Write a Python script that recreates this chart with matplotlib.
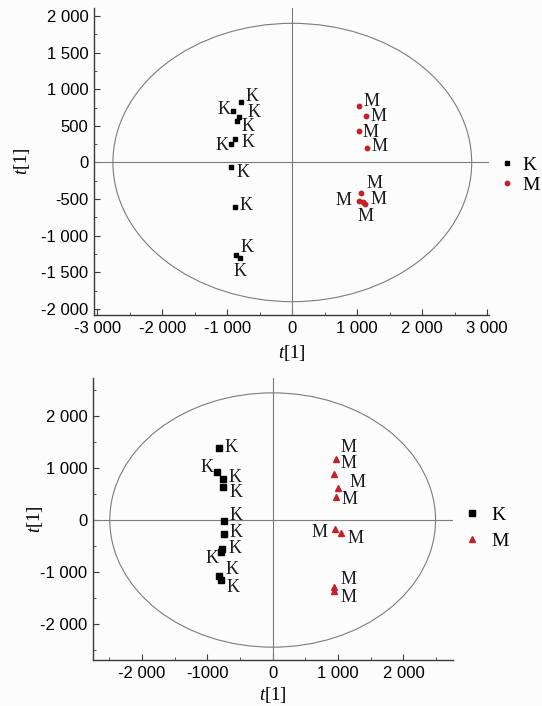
import matplotlib
matplotlib.use("Agg")
import matplotlib.pyplot as plt
from matplotlib.patches import Ellipse
from matplotlib.ticker import FixedLocator, MultipleLocator

# ---------------- data: top panel ----------------
top_k_x = [-785, -908, -825, -851, -877, -948, -948, -877, -862, -805]
top_k_y = [821, 703, 617, 570, 316, 248, -57, -603, -1262, -1307]
top_m_x = [1031, 1138, 1026, 1154, 1052, 1031, 1083, 1123]
top_m_y = [771, 630, 425, 202, -412, -521, -543, -570]
top_ellipse_radii = (2760, 1900)
top_xticks = [-3000, -2000, -1000, 0, 1000, 2000, 3000]
top_xticklabels = ["-3 000", "-2 000", "-1 000", "0", "1 000", "2 000", "3 000"]
top_yticks = [-2000, -1500, -1000, -500, 0, 500, 1000, 1500, 2000]
top_yticklabels = ["-2 000", "-1 500", "-1 000", "-500", "0", "500", "1 000", "1 500", "2 000"]

# ---------------- data: bottom panel ----------------
bot_k_x = [-822, -848, -766, -766, -750, -741, -776, -796, -822, -796]
bot_k_y = [1381, 919, 790, 642, -19, -270, -559, -623, -1073, -1156]
bot_m_x = [964, 939, 1000, 964, 954, 1046, 939, 939]
bot_m_y = [1175, 880, 623, 450, -180, -244, -1297, -1362]
bot_ellipse_radii = (2490, 2450)
bot_xticks = [-2000, -1000, 0, 1000, 2000]
bot_xticklabels = ["-2 000", "-1000", "0", "1 000", "2 000"]
bot_yticks = [-2000, -1000, 0, 1000, 2000]
bot_yticklabels = ["-2 000", "-1 000", "0", "1 000", "2 000"]

group_names = ["K", "M"]

# label offsets in pixels (dx right, dy down) -- layout only
top_k_off = [(11, -6), (-9, -1), (15, -5), (11, 6), (13, 3), (-9, 1), (12, 6), (11, -1), (11, -7), (0, 13)]
top_m_off = [(12, -5), (12, 0), (12, 1), (12, -1), (14, -9), (-16, 0), (16, -3), (0, 12)]
bot_k_off = [(12, -1), (-10, -5), (12, -2), (13, 6), (12, -5), (12, -2), (13, -1), (-9, 6), (13, -6), (12, 7)]
bot_m_off = [(13, -12), (14, -11), (19, -5), (14, 3), (-16, 3), (14, 6), (14, -8), (14, 7)]

W, H = 542, 706
DPI = 100
RED = "#c4222b"
LINE = "#7c7c7c"
SPINE = "#3a3a3a"
SERIF = ["Liberation Serif", "DejaVu Serif"]
SANS = ["Liberation Sans", "DejaVu Sans"]
PX = 72.0 / DPI

plt.rcParams["mathtext.fontset"] = "custom"
plt.rcParams["mathtext.it"] = "Liberation Serif:italic"
plt.rcParams["mathtext.rm"] = "Liberation Serif"

fig = plt.figure(figsize=(W / DPI, H / DPI), dpi=DPI, facecolor="#fcfcfc")


def make_axes(box):
    x0, y0, x1, y1 = box
    return fig.add_axes([x0 / W, 1 - y1 / H, (x1 - x0) / W, (y1 - y0) / H])


def style(ax, xticks, xlabels, yticks, ylabels, xminor, yminor, ylab_x, xlab_y):
    ax.set_facecolor("none")
    for s in ("top", "right"):
        ax.spines[s].set_visible(False)
    for s in ("left", "bottom"):
        ax.spines[s].set_color(SPINE)
        ax.spines[s].set_linewidth(1.0)
    ax.xaxis.set_major_locator(FixedLocator(xticks))
    ax.set_xticklabels(xlabels)
    ax.yaxis.set_major_locator(FixedLocator(yticks))
    ax.set_yticklabels(ylabels)
    ax.xaxis.set_minor_locator(MultipleLocator(xminor))
    ax.yaxis.set_minor_locator(MultipleLocator(yminor))
    ax.tick_params(which="major", direction="in", length=4, width=0.8, color=SPINE,
                   pad=4, labelsize=12)
    ax.tick_params(which="minor", direction="in", length=2.5, width=0.6, color=SPINE)
    for lab in ax.get_xticklabels() + ax.get_yticklabels():
        lab.set_family(SANS)
    ax.set_xlabel("$\\mathit{t}$[1]", fontsize=13.5, family=SERIF, va="center", ha="center")
    ax.set_ylabel("$\\mathit{t}$[1]", fontsize=13.5, family=SERIF, va="center", ha="center")
    bb = ax.get_position()
    # axis-label centre placement, figure pixels -> axes fraction
    ax.yaxis.set_label_coords((ylab_x / W - bb.x0) / bb.width, 0.5)
    ax.xaxis.set_label_coords(0.5, ((1 - xlab_y / H) - bb.y0) / bb.height)


def annotate(ax, xs, ys, name, offs):
    for x, y, (dx, dy) in zip(xs, ys, offs):
        ax.annotate(name, (x, y), xytext=(dx * PX, -dy * PX), textcoords="offset points",
                    ha="center", va="center", fontsize=13, family=SERIF, color="#1a1a1a")


# ---------------- top panel ----------------
ax1 = make_axes((94, 8, 489, 315))
ax1.set_xlim(-3051, 3026)
ax1.set_ylim(-2082, 2109)
ax1.add_patch(Ellipse((0, 0), 2 * top_ellipse_radii[0], 2 * top_ellipse_radii[1],
                      fill=False, edgecolor=LINE, lw=0.8))
ax1.axhline(0, color=LINE, lw=0.8)
ax1.axvline(0, color=LINE, lw=0.8)
ax1.plot(top_k_x, top_k_y, "s", color="black", ms=3.5, ls="none", label=group_names[0])
ax1.plot(top_m_x, top_m_y, "o", color=RED, ms=3.2, ls="none", label=group_names[1])
annotate(ax1, top_k_x, top_k_y, group_names[0], top_k_off)
annotate(ax1, top_m_x, top_m_y, group_names[1], top_m_off)
style(ax1, top_xticks, top_xticklabels, top_yticks, top_yticklabels, 500, 250, 22, 353)
ax1.legend(loc="center left", bbox_to_anchor=((501 - 94) / 395, (315 - 175) / 307),
           frameon=False, handlelength=0.6, handletextpad=0.5, borderpad=0,
           borderaxespad=0, labelspacing=0.1, prop={"family": SERIF, "size": 14})

# ---------------- bottom panel ----------------
ax2 = make_axes((93, 378, 453, 660))
ax2.set_xlim(-2747, 2757)
ax2.set_ylim(-2697, 2736)
ax2.add_patch(Ellipse((0, 0), 2 * bot_ellipse_radii[0], 2 * bot_ellipse_radii[1],
                      fill=False, edgecolor=LINE, lw=0.8))
ax2.axhline(0, color=LINE, lw=0.8)
ax2.axvline(0, color=LINE, lw=0.8)
ax2.plot(bot_k_x, bot_k_y, "s", color="black", ms=4.5, ls="none", label=group_names[0])
ax2.plot(bot_m_x, bot_m_y, "^", color=RED, ms=5, ls="none", label=group_names[1])
annotate(ax2, bot_k_x, bot_k_y, group_names[0], bot_k_off)
annotate(ax2, bot_m_x, bot_m_y, group_names[1], bot_m_off)
style(ax2, bot_xticks, bot_xticklabels, bot_yticks, bot_yticklabels, 500, 500, 35, 695)
ax2.legend(loc="center left", bbox_to_anchor=((466 - 93) / 360, (660 - 528) / 282),
           frameon=False, handlelength=0.6, handletextpad=0.7, borderpad=0,
           borderaxespad=0, labelspacing=0.4, prop={"family": SERIF, "size": 14})

fig.savefig("out.png", dpi=DPI, facecolor=fig.get_facecolor())
